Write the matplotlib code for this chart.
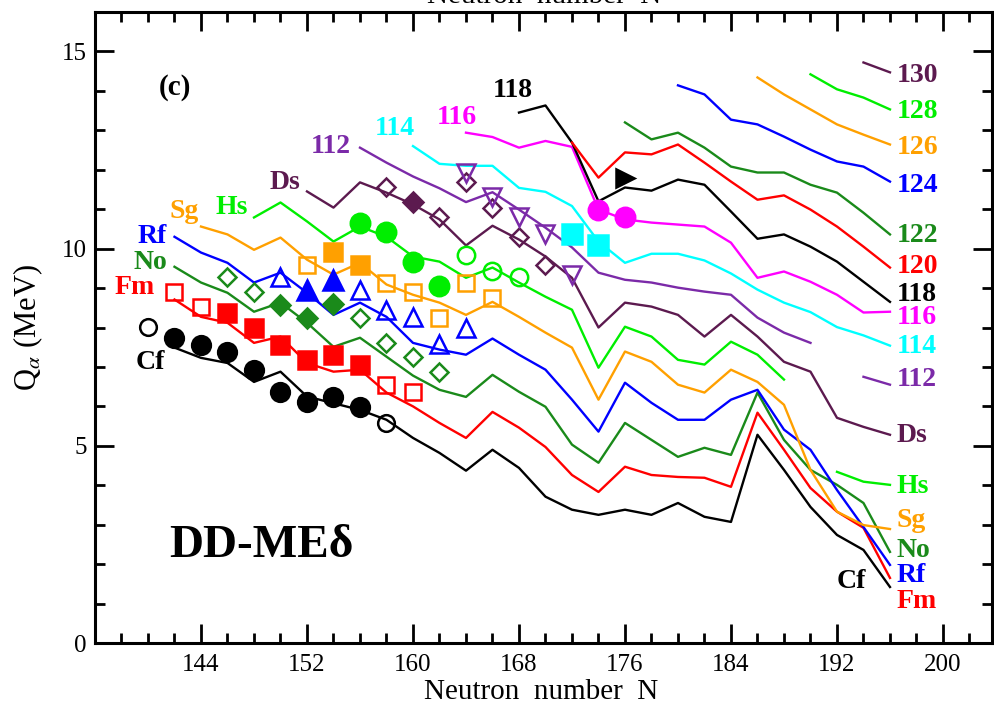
import numpy as np
import matplotlib.pyplot as plt

plt.rcParams['font.family'] = ['Liberation Serif', 'DejaVu Serif']
plt.rcParams['mathtext.fontset'] = 'stix'

# calculated Q_alpha (MeV) along the isotopic chains, even N
N_cf = np.arange(142, 198, 2)
Q_cf = [7.49, 7.23, 7.10, 6.62, 6.88, 6.25, 6.08, 5.91, 5.66, 5.20,
        4.82, 4.37, 4.90, 4.44, 3.71, 3.38, 3.25, 3.38, 3.25, 3.55,
        3.20, 3.07, 5.28, 4.39, 3.45, 2.74, 2.36, 1.42]
N_fm = np.arange(142, 198, 2)
Q_fm = [8.71, 8.27, 8.12, 7.61, 7.77, 7.10, 6.88, 6.93, 6.35, 6.00,
        5.58, 5.20, 5.86, 5.46, 4.97, 4.26, 3.83, 4.47, 4.26, 4.21,
        4.19, 3.96, 5.84, 4.90, 3.93, 3.33, 2.92, 1.65]
N_no = np.arange(142, 198, 2)
Q_no = [9.54, 9.14, 8.88, 8.40, 8.63, 8.12, 7.51, 7.74, 7.26, 6.78,
        6.42, 6.24, 6.80, 6.37, 5.99, 5.03, 4.57, 5.58, 5.15, 4.72,
        4.95, 4.77, 6.35, 5.15, 4.39, 4.01, 3.55, 2.31]
N_rf = np.arange(142, 198, 2)
Q_rf = [10.30, 9.90, 9.64, 9.14, 9.39, 8.88, 8.32, 8.63, 8.27, 7.61,
        7.44, 7.31, 7.72, 7.31, 6.93, 6.17, 5.36, 6.60, 6.09, 5.66,
        5.66, 6.17, 6.42, 5.41, 4.90, 3.88, 2.94, 1.98]
N_sg = np.arange(144, 198, 2)
Q_sg = [10.56, 10.36, 9.97, 10.28, 9.72, 9.34, 9.64, 9.09, 8.83,
        8.63, 8.32, 8.65, 8.27, 7.87, 7.49, 6.17, 7.39, 7.13, 6.55,
        6.35, 6.93, 6.62, 6.04, 4.39, 3.33, 2.99, 2.89]
N_hs = np.arange(148, 198, 2)
Q_hs = [10.79, 11.17, 10.69, 10.18, 10.56, 10.30, 9.80, 9.67, 9.26,
        9.52, 9.14, 8.78, 8.45, 6.98, 8.02, 7.77, 7.18, 7.06, 7.64,
        7.31, 6.68, np.nan, 4.34, 4.09, 4.01]
N_ds = np.arange(152, 198, 2)
Q_ds = [11.45, 11.04, 11.68, 11.42, 11.12, 10.74, 10.08, 10.58, 10.23,
        9.80, 9.26, 8.00, 8.63, 8.53, 8.32, 7.77, 8.32, 7.77, 7.13,
        6.88, 5.71, 5.48, 5.28]
N_112 = np.arange(156, 198, 2)
Q_112 = [12.56, 12.18, 11.83, 11.53, 11.18, 11.43, 10.99, 10.53, 10.03,
         9.39, 9.21, 9.14, 9.01, 8.91, 8.83, 8.25, 7.87, 7.61, np.nan,
         6.75, 6.55]
N_114 = np.arange(160, 198, 2)
Q_114 = [12.60, 12.15, 12.10, 12.10, 11.54, 11.44, 11.08, 10.18, 9.64,
         9.87, 9.87, 9.70, 9.37, 8.96, 8.63, 8.39, 8.01, 7.80, 7.54]
N_116 = np.arange(164, 198, 2)
Q_116 = [12.94, 12.83, 12.56, 12.73, 12.58, 10.99, 10.74, 10.66, 10.61,
         10.56, 10.15, 9.26, 9.42, 9.16, 8.83, 8.38, 8.40]
N_118 = np.arange(168, 198, 2)
Q_118 = [13.45, 13.63, 12.69, 11.20, 11.55, 11.47, 11.75, 11.62, 10.94,
         10.25, 10.36, 10.05, 9.67, 9.16, 8.65]
N_120 = np.arange(172, 198, 2)
Q_120 = [12.69, 11.80, 12.44, 12.39, 12.64, 12.18, 11.70, 11.24, 11.35,
         10.99, 10.56, 10.05, 9.52]
N_122 = np.arange(176, 198, 2)
Q_122 = [13.20, 12.77, 12.94, 12.56, 12.08, 11.93, 11.93, 11.62, 11.42,
         10.91, 10.36]
N_124 = np.arange(180, 198, 2)
Q_124 = [14.14, 13.91, 13.27, 13.15, 12.84, 12.51, 12.21, 12.08, 11.70]
N_126 = np.arange(186, 198, 2)
Q_126 = [14.34, 13.91, 13.53, 13.15, 12.89, 12.64]
N_128 = np.arange(190, 198, 2)
Q_128 = [14.42, 14.04, 13.83, 13.53]
N_130 = np.arange(194, 198, 2)
Q_130 = [14.72, 14.47]

# experimental values: filled = measured, open = systematics
cf_full_N = [142, 144, 146, 148, 150, 152, 154, 156]
cf_full_Q = [7.74, 7.56, 7.39, 6.93, 6.37, 6.12, 6.25, 5.99]
cf_open_N = [140, 158]
cf_open_Q = [8.02, 5.58]
fm_full_N = [146, 148, 150, 152, 154, 156]
fm_full_Q = [8.38, 8.00, 7.56, 7.18, 7.31, 7.06]
fm_open_N = [142, 144, 158, 160]
fm_open_Q = [8.91, 8.53, 6.55, 6.37]
no_full_N = [150, 152, 154]
no_full_Q = [8.58, 8.25, 8.60]
no_open_N = [146, 148, 156, 158, 160, 162]
no_open_Q = [9.29, 8.91, 8.25, 7.61, 7.26, 6.88]
rf_full_N = [152, 154]
rf_full_Q = [8.96, 9.21]
rf_open_N = [150, 156, 158, 160, 162, 164]
rf_open_Q = [9.29, 8.96, 8.45, 8.27, 7.58, 8.00]
sg_full_N = [154, 156]
sg_full_Q = [9.92, 9.59]
sg_open_N = [152, 158, 160, 162, 164, 166]
sg_open_Q = [9.59, 9.14, 8.91, 8.25, 9.14, 8.76]
hs_full_N = [156, 158, 160, 162]
hs_full_Q = [10.66, 10.43, 9.67, 9.04]
hs_open_N = [164, 166, 168]
hs_open_Q = [9.85, 9.42, 9.29]
ds_full_N = [160]
ds_full_Q = [11.19]
ds_open_N = [158, 162, 164, 166, 168, 170]
ds_open_Q = [11.55, 10.79, 11.68, 11.04, 10.30, 9.59]
z112_open_N = [164, 166, 168, 170, 172]
z112_open_Q = [11.93, 11.32, 10.81, 10.36, 9.34]
z114_full_N = [172, 174]
z114_full_Q = [10.36, 10.10]
z116_full_N = [174, 176]
z116_full_Q = [10.99, 10.79]
z118_full_N = [176]
z118_full_Q = [11.80]

BLACK = '#000000'
RED = '#ff0000'
DGREEN = '#1a8a1a'
BLUE = '#0000ff'
ORANGE = '#ffa000'
LIME = '#00ee00'
MAROON = '#5c1a4f'
PURPLE = '#7b2aa8'
CYAN = '#00ffff'
MAGENTA = '#ff00ff'

fig = plt.figure(figsize=(9.95, 7.07), dpi=100)
ax = fig.add_axes([95 / 995, 1 - 643 / 707, 897 / 995, 631 / 707])

chains = [(N_cf, Q_cf, BLACK), (N_fm, Q_fm, RED), (N_no, Q_no, DGREEN),
          (N_rf, Q_rf, BLUE), (N_sg, Q_sg, ORANGE), (N_hs, Q_hs, LIME),
          (N_ds, Q_ds, MAROON), (N_112, Q_112, PURPLE), (N_114, Q_114, CYAN),
          (N_116, Q_116, MAGENTA), (N_118, Q_118, BLACK), (N_120, Q_120, RED),
          (N_122, Q_122, DGREEN), (N_124, Q_124, BLUE), (N_126, Q_126, ORANGE),
          (N_128, Q_128, LIME), (N_130, Q_130, MAROON)]
for n, q, c in chains:
    ax.plot(n, q, color=c, lw=1.7, zorder=2)


def expt(n, q, marker, color, filled, ms):
    ax.plot(n, q, ls='none', marker=marker, ms=ms, mew=1.8, mec=color,
            mfc=color if filled else 'none', zorder=3)


expt(cf_full_N, cf_full_Q, 'o', BLACK, True, 13.5)
expt(cf_open_N, cf_open_Q, 'o', BLACK, False, 12)
expt(fm_full_N, fm_full_Q, 's', RED, True, 13.5)
expt(fm_open_N, fm_open_Q, 's', RED, False, 11.5)
expt(no_full_N, no_full_Q, 'D', DGREEN, True, 10)
expt(no_open_N, no_open_Q, 'D', DGREEN, False, 9.5)
expt(rf_full_N, rf_full_Q, '^', BLUE, True, 14)
expt(rf_open_N, rf_open_Q, '^', BLUE, False, 13)
expt(sg_full_N, sg_full_Q, 's', ORANGE, True, 13.5)
expt(sg_open_N, sg_open_Q, 's', ORANGE, False, 11.5)
expt(hs_full_N, hs_full_Q, 'o', LIME, True, 14)
expt(hs_open_N, hs_open_Q, 'o', LIME, False, 12.5)
expt(ds_full_N, ds_full_Q, 'D', MAROON, True, 10)
expt(ds_open_N, ds_open_Q, 'D', MAROON, False, 9.5)
expt(z112_open_N, z112_open_Q, 'v', PURPLE, False, 13)
expt(z114_full_N, z114_full_Q, 's', CYAN, True, 14)
expt(z116_full_N, z116_full_Q, 'o', MAGENTA, True, 14)
expt(z118_full_N, z118_full_Q, '>', BLACK, True, 13)

# chain labels
lab = dict(fontsize=20, fontweight='bold', ha='center', va='center')
ax.text(142.0, 14.09, '(c)', fontsize=21, fontweight='bold', ha='center', va='center')
ax.text(140.2, 7.10, 'Cf', color=BLACK, **lab)
ax.text(139.0, 9.01, 'Fm', color=RED, **lab)
ax.text(140.2, 9.64, 'No', color=DGREEN, **lab)
ax.text(140.3, 10.30, 'Rf', color=BLUE, **lab)
ax.text(142.7, 10.94, 'Sg', color=ORANGE, **lab)
ax.text(146.3, 11.04, 'Hs', color=LIME, **lab)
ax.text(150.3, 11.68, 'Ds', color=MAROON, **lab)
ax.text(153.8, 12.60, '112', color=PURPLE, **lab)
ax.text(158.6, 13.05, '114', color=CYAN, **lab)
ax.text(163.3, 13.32, '116', color=MAGENTA, **lab)
ax.text(167.5, 14.00, '118', color=BLACK, **lab)
ax.text(193.1, 1.55, 'Cf', color=BLACK, **lab)

right = dict(fontsize=20, fontweight='bold', ha='left', va='center')
for txt, q, c in [('130', 14.39, MAROON), ('128', 13.48, LIME),
                  ('126', 12.56, ORANGE), ('124', 11.60, BLUE),
                  ('122', 10.33, DGREEN), ('120', 9.54, RED),
                  ('118', 8.83, BLACK), ('116', 8.25, MAGENTA),
                  ('114', 7.51, CYAN), ('112', 6.68, PURPLE),
                  ('Ds', 5.25, MAROON), ('Hs', 3.98, LIME),
                  ('Sg', 3.10, ORANGE), ('No', 2.34, DGREEN),
                  ('Rf', 1.70, BLUE), ('Fm', 1.04, RED)]:
    ax.text(196.5, q, txt, color=c, **right)

ax.text(0.185, 0.154, 'DD-ME\u03b4', transform=ax.transAxes, fontsize=34,
        fontweight='bold', ha='center', va='center')

ax.set_xlim(136, 203.7)
ax.set_ylim(0, 16)
ax.set_xticks(np.arange(144, 201, 8))
ax.set_xticks(np.arange(136, 204, 2), minor=True)
ax.set_yticks([0, 5, 10, 15])
ax.set_yticks(np.arange(0, 17, 1), minor=True)
ax.tick_params(which='both', direction='in', top=True, right=True, width=2,
               labelsize=18)
ax.tick_params(axis='x', pad=8)
ax.tick_params(axis='y', pad=6)
ax.tick_params(which='major', length=14)
ax.tick_params(which='minor', length=7)
for s in ax.spines.values():
    s.set_linewidth(2.2)

ax.text(0.497, -0.077, 'Neutron  number  N', transform=ax.transAxes,
        fontsize=21, ha='center', va='center')
ax.text(-0.075, 0.5, r'Q$_\alpha$ (MeV)', transform=ax.transAxes,
        fontsize=22, ha='center', va='center', rotation=90)

# axis title of the panel above, cut by the top edge
fig.text(544 / 995, 1 - 3 / 707, 'Neutron  number  N', fontsize=21,
         ha='center', va='baseline')

fig.savefig('out.png', dpi=100)
plt.close(fig)
